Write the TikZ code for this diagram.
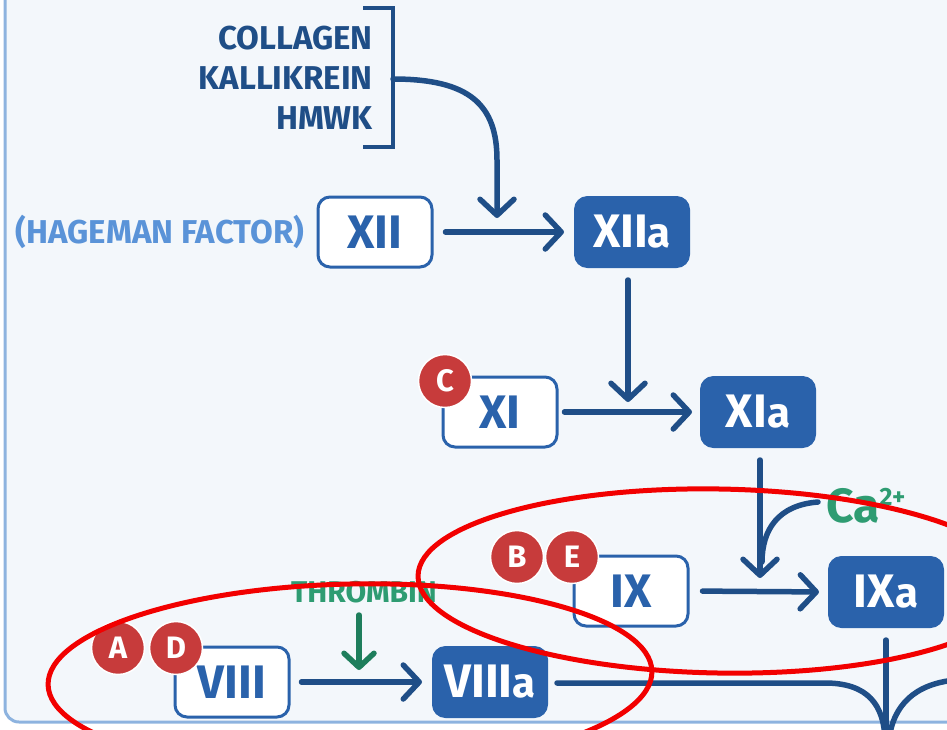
\documentclass[tikz,border=0pt]{standalone}
\usepackage{fontspec}
\setmainfont{Fira Sans}
\usetikzlibrary{arrows.meta}
\definecolor{bgc}{HTML}{F3F7FB}
\definecolor{framec}{HTML}{8DB3DF}
\definecolor{navy}{HTML}{1F4E87}
\definecolor{boxblue}{HTML}{2A62AB}
\definecolor{lightblue}{HTML}{5A93D8}
\definecolor{greent}{HTML}{2E9C72}
\definecolor{greena}{HTML}{1E7E5C}
\definecolor{badgered}{HTML}{C73B3B}
\definecolor{ringred}{HTML}{F20000}
\tikzset{
  factor/.style={draw=boxblue, fill=white, line width=3pt, rounded corners=12pt,
    minimum width=114pt, minimum height=70pt, text=boxblue,
    font=\fontsize{47}{47}\selectfont\bfseries, inner sep=0pt},
  active/.style={draw=boxblue, fill=boxblue, line width=1pt, rounded corners=13pt,
    minimum width=115pt, minimum height=71pt, text=white,
    font=\fontsize{47}{47}\selectfont\bfseries, inner sep=0pt},
  badge/.style={circle, fill=badgered, draw=white, line width=1.5pt, minimum size=53pt,
    inner sep=0pt, text=white, font=\fontsize{31}{31}\selectfont\bfseries},
  arr/.style={draw=navy, line width=5.5pt, line cap=round,
    -{Straight Barb[length=16pt,width=34pt,line width=5.5pt,round]}},
  plain/.style={draw=navy, line width=5.5pt, line cap=round},
  garr/.style={draw=greena, line width=5.5pt, line cap=round,
    -{Straight Barb[length=14pt,width=30pt,line width=5.5pt,round]}},
  ring/.style={draw=ringred, line width=5pt},
  lab/.style={text=navy, font=\fontsize{33}{33}\selectfont\bfseries, inner sep=0pt, anchor=east}
}
\begin{document}
\begin{tikzpicture}[x=1pt,y=-1pt]
\useasboundingbox (0,0) rectangle (947,729);
\draw[draw=framec, fill=bgc, line width=3pt, rounded corners=14pt] (5,-40) rectangle (1000,722);

% bracket and cofactors
\node[lab] (col) at (373,38) {COLLAGEN};
\node[lab] (kal) at (373,78) {KALLIKREIN};
\node[lab] (hmw) at (373,118) {HMWK};
\coordinate (bt) at (363,8);
\coordinate (bb) at (363,147);
\coordinate (bm) at (393,79);
\coordinate (xtip) at (497,218);
\draw[draw=navy, line width=4pt] (bt) -- (393,8) -- (393,147) -- (bb);
\draw[arr] (bm) .. controls (470,79) and (497,105) .. (497,160) -- (xtip);

% factor nodes
\node[factor] (XII) at (375,232) {XII};
\node[text=lightblue, font=\fontsize{33}{33}\selectfont\bfseries, inner sep=0pt] (hag) at (160,232) {(HAGEMAN FACTOR)};
\node[active] (XIIa) at (632,232) {XII{\fontsize{42}{42}\selectfont a}};
\node[factor] (XI) at (500,412) {XI};
\node[active] (XIa) at (758,412) {XI{\fontsize{42}{42}\selectfont a}};
\node[factor] (IX) at (631,591) {IX};
\node[active] (IXa) at (886,592) {IX{\fontsize{42}{42}\selectfont a}};
\node[factor] (VIII) at (232,682) {VIII};
\node[active] (VIIIa) at (490,682) {VIII{\fontsize{42}{42}\selectfont a}};

% badges
\node[badge] (bC) at (445,381) {C};
\node[badge] (bB) at (517,557) {B};
\node[badge] (bE) at (572,557) {E};
\node[badge] (bA) at (118,648) {A};
\node[badge] (bD) at (176,648) {D};

% labels
\node[text=greent, font=\fontsize{30}{30}\selectfont\bfseries, inner sep=0pt] (thr) at (364,592) {THROMBIN};
\node[text=greent, font=\fontsize{48}{48}\selectfont\bfseries, inner sep=0pt, anchor=west] (ca) at (826,506) {Ca\raisebox{17pt}{\fontsize{25}{25}\selectfont 2+}};

% connectors
\draw[arr, shorten <=12pt, shorten >=10pt] (XII) -- (XIIa);
\coordinate (t1) at (628,402);
\draw[arr] (628,280) -- (t1);
\draw[arr, shorten <=6pt, shorten >=8pt] (XI) -- (XIa);
\coordinate (t2) at (760,578);
\draw[arr] (760,460) -- (t2);
\coordinate (cs) at (818,502);
\draw[plain] (cs) .. controls (778,505) and (762,530) .. (762,562);
\draw[arr, shorten <=13pt, shorten >=9pt] (IX.east) -- (IXa.west);
\coordinate (ib) at (886,740);
\draw[plain] (886,640) -- (ib);
\coordinate (th1) at (359,615);
\coordinate (th2) at (359,670);
\draw[garr] (th1) -- (th2);
\draw[arr, shorten <=11pt, shorten >=10pt] (VIII.east) -- (VIIIa.west);
\coordinate (lb) at (885,740);
\draw[plain] (557,683) -- (825,683) .. controls (868,683) and (884,705) .. (lb);
\coordinate (rb) at (889,740);
\draw[plain] (955,680) .. controls (915,684) and (893,705) .. (rb);

% red rings
\draw[ring, rotate around={-1:(719,581)}] (719,581) ellipse [x radius=301, y radius=92];
\draw[ring, rotate around={1.3:(350,678)}] (350,678) ellipse [x radius=302, y radius=94];
\end{tikzpicture}
\end{document}
